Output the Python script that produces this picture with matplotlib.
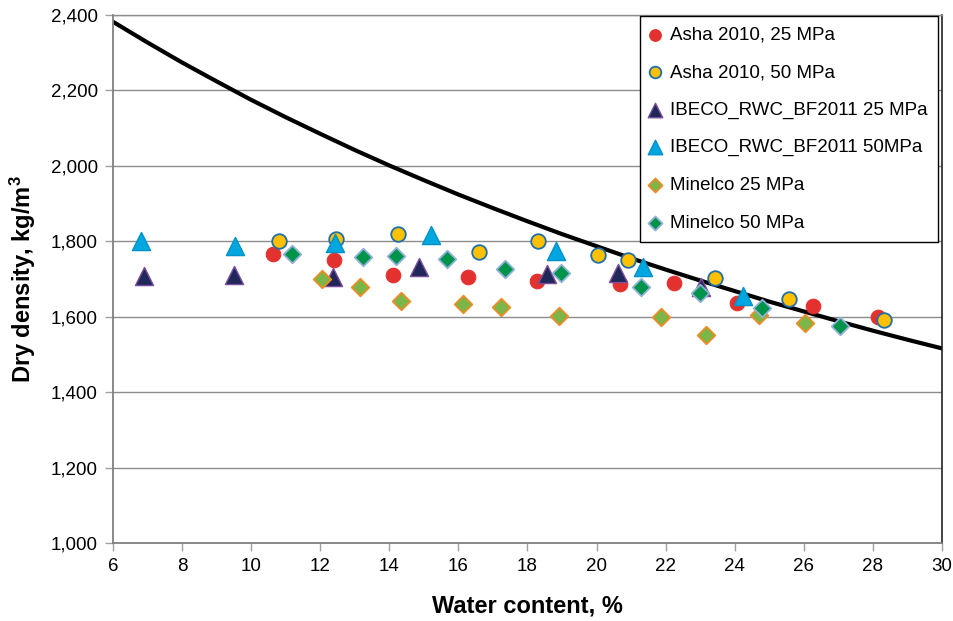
import matplotlib
matplotlib.use("Agg")
import matplotlib.pyplot as plt
from matplotlib.ticker import FuncFormatter

plt.rcParams['font.family'] = ['Liberation Sans', 'DejaVu Sans']
plt.rcParams['mathtext.fontset'] = 'custom'
plt.rcParams['mathtext.rm'] = 'Liberation Sans'
plt.rcParams['mathtext.bf'] = 'Liberation Sans:bold'

# saturation line
line_w = [6, 7, 8, 9, 10, 11, 12, 13, 14, 15, 16, 17, 18,
          19, 20, 21, 22, 23, 24, 25, 26, 27, 28, 29, 30]
line_rho = [2382, 2327, 2274, 2224, 2175, 2129, 2085, 2042, 2001, 1962, 1924, 1888, 1853,
            1819, 1787, 1755, 1725, 1696, 1668, 1640, 1614, 1588, 1563, 1539, 1516]

asha25_w = [10.63, 12.40, 14.11, 16.28, 18.28, 20.68, 22.24, 24.07, 26.27, 28.15]
asha25_rho = [1766, 1750, 1711, 1705, 1695, 1687, 1689, 1636, 1628, 1599]

asha50_w = [10.81, 12.46, 14.25, 16.60, 18.30, 20.04, 20.91, 23.43, 25.57, 28.32]
asha50_rho = [1801, 1806, 1819, 1772, 1801, 1764, 1750, 1703, 1647, 1591]

ibeco25_w = [6.90, 9.50, 12.37, 14.86, 18.57, 20.62, 23.02]
ibeco25_rho = [1708, 1711, 1705, 1732, 1712, 1716, 1678]

ibeco50_w = [6.81, 9.53, 12.43, 15.21, 18.83, 21.34, 24.24]
ibeco50_rho = [1801, 1788, 1796, 1817, 1774, 1731, 1654]

min25_w = [12.05, 13.15, 14.34, 16.13, 17.23, 18.91, 21.87, 23.17, 24.70, 26.03]
min25_rho = [1700, 1679, 1642, 1634, 1626, 1602, 1599, 1552, 1604, 1583]

min50_w = [11.18, 13.24, 14.19, 15.67, 17.35, 18.97, 21.29, 23.00, 24.79, 27.05]
min50_rho = [1766, 1758, 1761, 1753, 1727, 1716, 1679, 1662, 1623, 1575]

fig = plt.figure(figsize=(9.54, 6.21), dpi=100)
ax = fig.add_axes([113 / 954, 1 - 543 / 621, 829 / 954, 528 / 621])

ax.set_xlim(6, 30)
ax.set_ylim(1000, 2400)
ax.set_xticks(range(6, 31, 2))
ax.set_yticks(range(1000, 2401, 200))
ax.yaxis.set_major_formatter(FuncFormatter(lambda v, p: f"{int(v):,}"))
ax.grid(axis='y', color='#8c8c8c', linewidth=1.0)
ax.set_axisbelow(True)

for side in ['left', 'bottom']:
    ax.spines[side].set_color('#808080')
    ax.spines[side].set_linewidth(1.3)
ax.spines['top'].set_color('#8c8c8c')
ax.spines['top'].set_linewidth(1.0)
ax.spines['right'].set_color('#222222')
ax.spines['right'].set_linewidth(1.2)
ax.tick_params(axis='both', direction='out', length=6, width=1, color='#a0a0a0',
               labelsize=13.5, pad=5)

ax.plot(line_w, line_rho, color='black', linewidth=3, zorder=2)

ax.scatter(asha25_w, asha25_rho, s=110, marker='o', color='#e3312f', edgecolor='#e3312f',
           linewidth=0.8, label='Asha 2010, 25 MPa', zorder=3)
ax.scatter(asha50_w, asha50_rho, s=110, marker='o', color='#ffc000', edgecolor='#1f6fa8',
           linewidth=1.3, label='Asha 2010, 50 MPa', zorder=3)
ax.scatter(ibeco25_w, ibeco25_rho, s=170, marker='^', color='#1f2859', edgecolor='#7a4e9c',
           linewidth=1.0, label='IBECO_RWC_BF2011 25 MPa', zorder=3)
ax.scatter(ibeco50_w, ibeco50_rho, s=170, marker='^', color='#00a6df', edgecolor='#0093c9',
           linewidth=1.0, label='IBECO_RWC_BF2011 50MPa', zorder=3)
ax.scatter(min25_w, min25_rho, s=80, marker='D', color='#7ab648', edgecolor='#f08a24',
           linewidth=1.3, label='Minelco 25 MPa', zorder=3)
ax.scatter(min50_w, min50_rho, s=80, marker='D', color='#00934a', edgecolor='#8fb1d9',
           linewidth=1.3, label='Minelco 50 MPa', zorder=3)

leg = ax.legend(loc='upper right', bbox_to_anchor=(938 / 954, 1 - 16 / 621),
                bbox_transform=fig.transFigure, fontsize=13.5, frameon=True,
                fancybox=False, edgecolor='black', framealpha=1, borderpad=0.55,
                labelspacing=1.09, handletextpad=0.55, handlelength=0.5,
                markerscale=0.8, borderaxespad=0)
leg.get_frame().set_linewidth(1.0)

ax.set_xlabel('Water content, %', fontsize=17, fontweight='bold', labelpad=14)
ax.set_ylabel('Dry density, kg/m$\\mathbf{^3}$', fontsize=17, fontweight='bold', labelpad=9)

fig.savefig('out.png', dpi=100)
